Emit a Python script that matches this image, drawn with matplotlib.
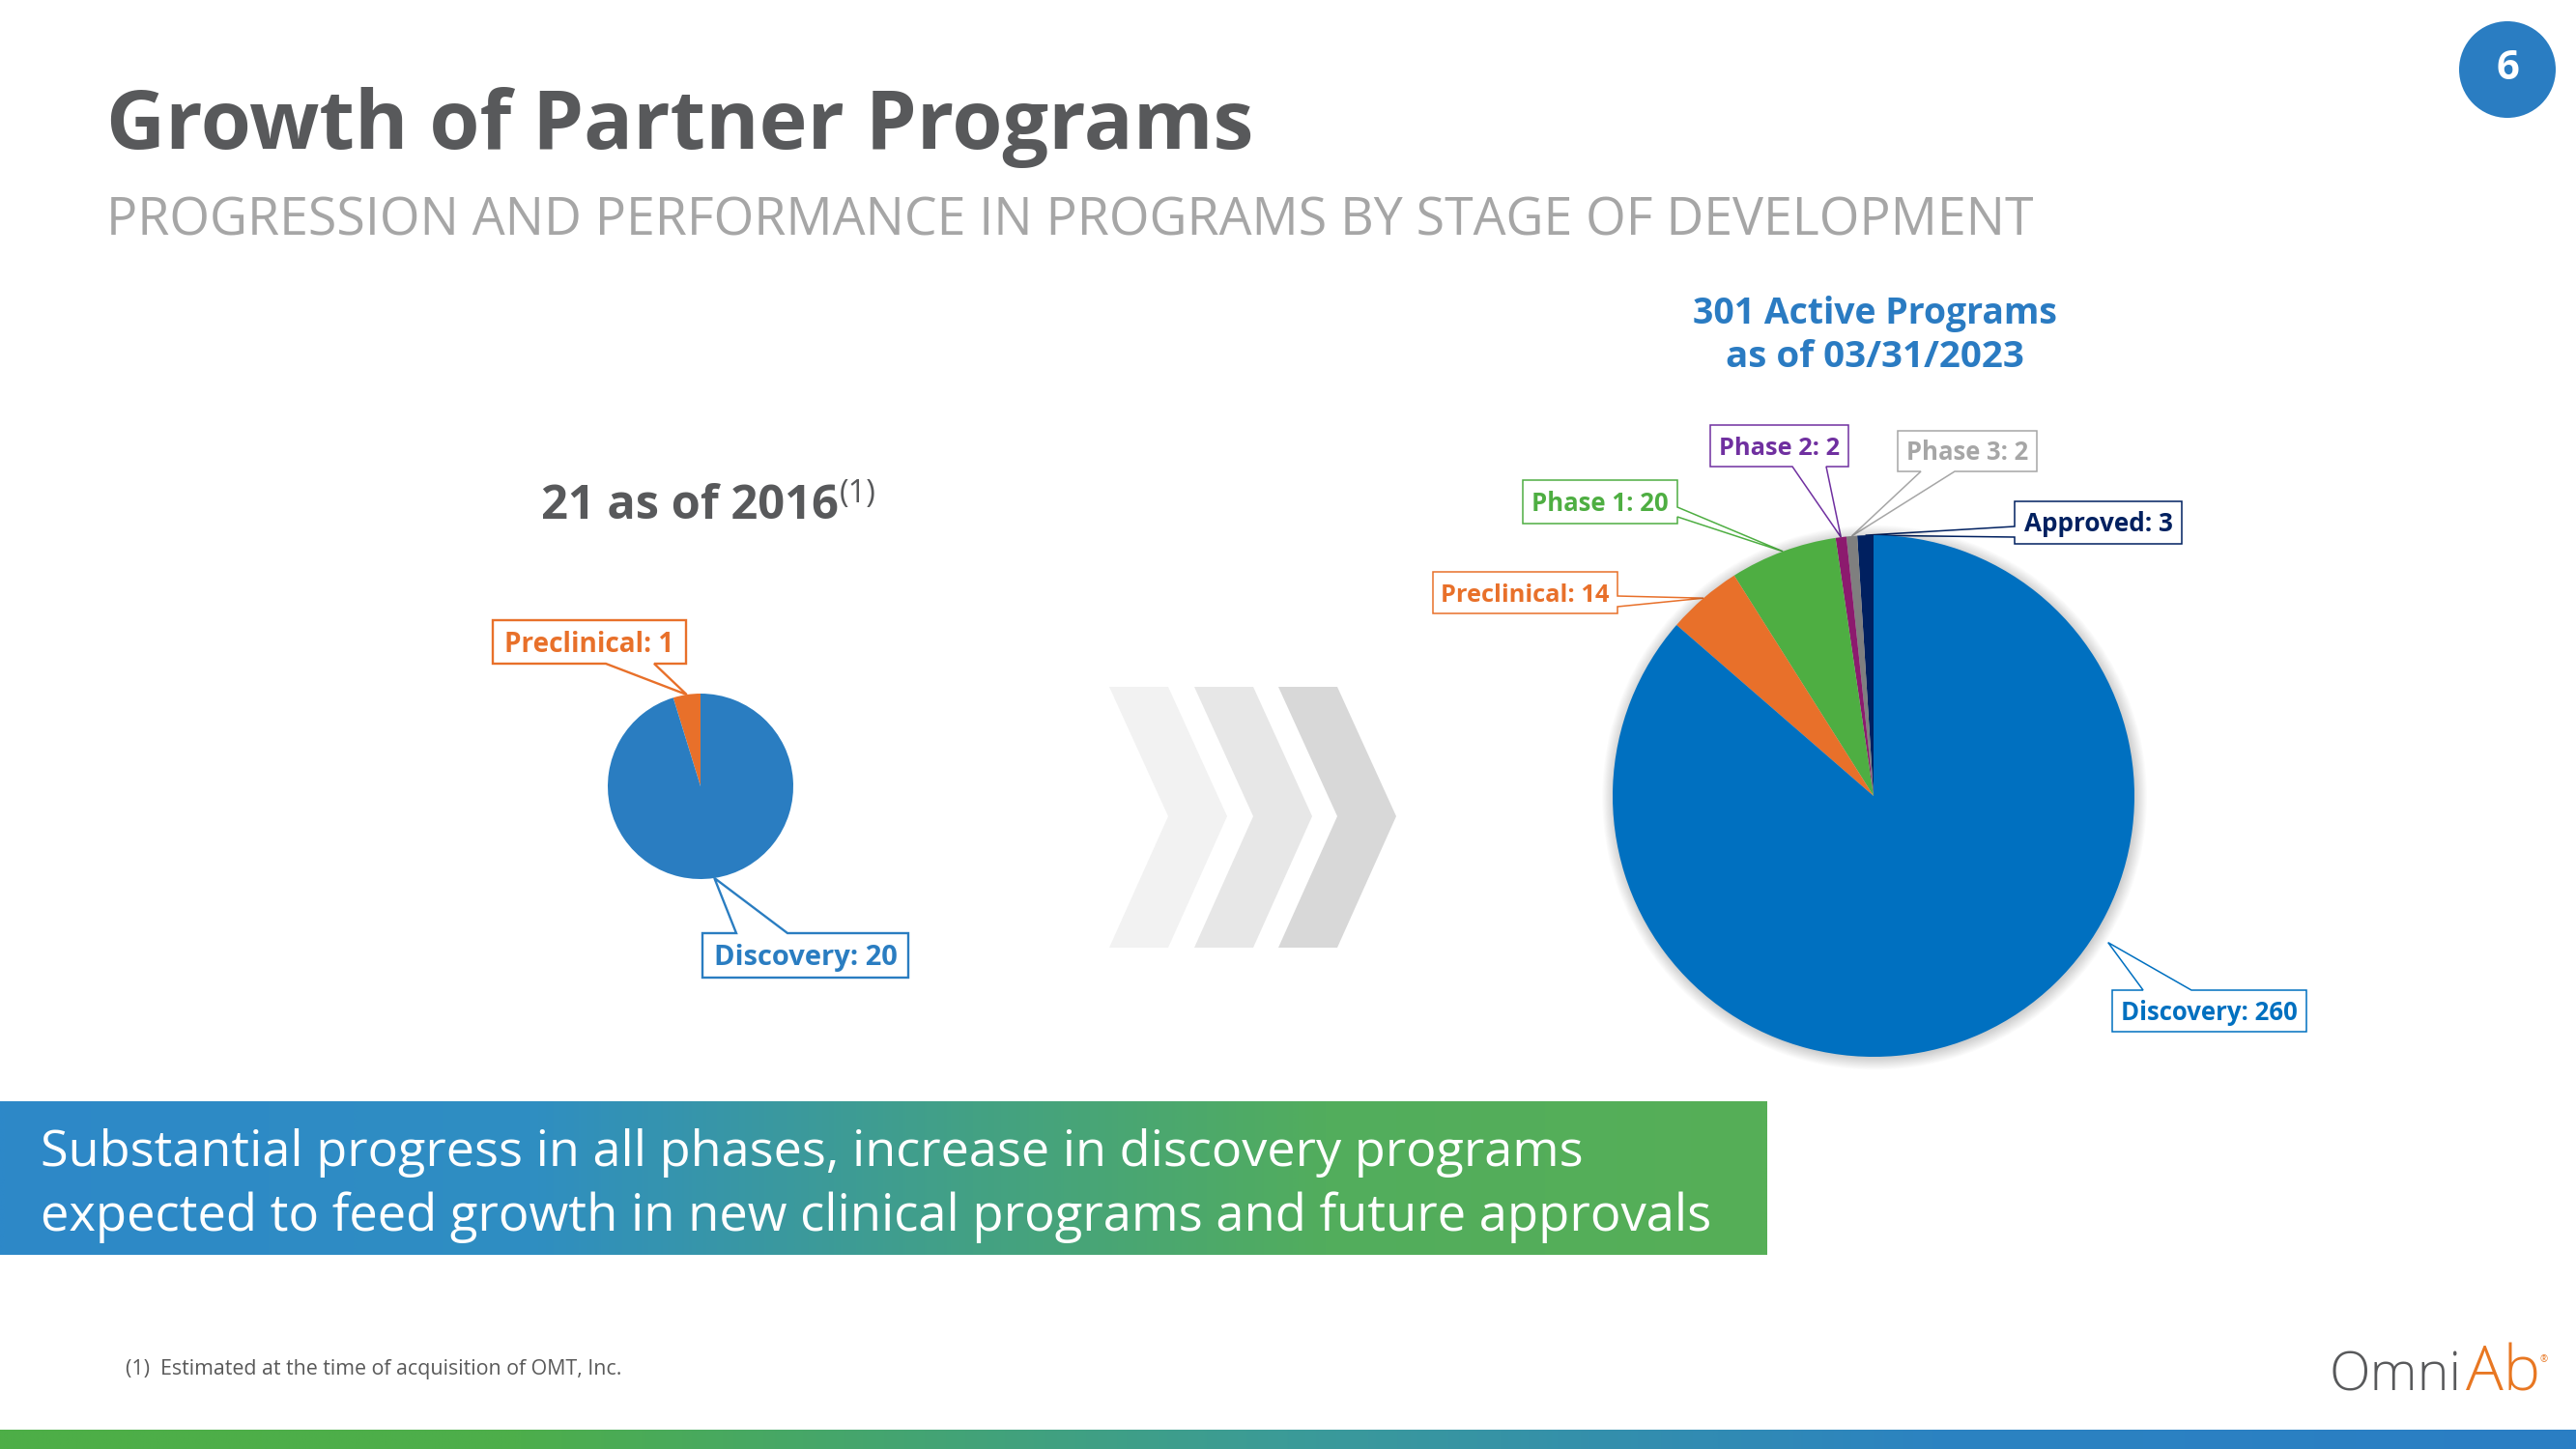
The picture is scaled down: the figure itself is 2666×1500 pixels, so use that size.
import matplotlib
matplotlib.use('Agg')
import numpy as np
import matplotlib.pyplot as plt
from matplotlib.patches import Polygon, Circle
from matplotlib.colors import LinearSegmentedColormap

plt.rcParams['font.family'] = ['Open Sans', 'DejaVu Sans']

# --- data -------------------------------------------------------------
old_labels = ['Preclinical', 'Discovery']
old_values = [1, 20]
old_colors = ['#E8702A', '#2A7DC1']

new_labels = ['Approved', 'Phase 3', 'Phase 2', 'Phase 1', 'Preclinical', 'Discovery']
new_values = [3, 2, 2, 20, 14, 260]
new_colors = ['#002060', '#7F7F7F', '#8C1A6E', '#4EAE42', '#E8702A', '#0070C0']
new_text_colors = ['#002060', '#A6A6A6', '#7030A0', '#4EAE42', '#E8702A', '#0070C0']

title = 'Growth of Partner Programs'
subtitle = 'PROGRESSION AND PERFORMANCE IN PROGRAMS BY STAGE OF DEVELOPMENT'
old_header = '21 as of 2016'
new_header = ['301 Active Programs', 'as of 03/31/2023']
banner = ['Substantial progress in all phases, increase in discovery programs',
          'expected to feed growth in new clinical programs and future approvals']
footnote = '(1)  Estimated at the time of acquisition of OMT, Inc.'

# --- canvas (pixel coordinates, y down) --------------------------------
W, H = 2666, 1500
fig = plt.figure(figsize=(W / 100, H / 100), dpi=100)
bg = fig.add_axes([0, 0, 1, 1])
bg.axis('off')
renderer = fig.canvas.get_renderer()
PX = 100 / 72.0


def fit_text(x, y, s, width, color, weight='normal', ha='left', **kw):
    t = bg.text(x, y, s, color=color, fontweight=weight, ha=ha, va='baseline',
                fontsize=20, **kw)
    bb = t.get_window_extent(renderer)
    t.set_fontsize(20 * width / bb.width)
    return t


def callout(box, apex, color, s, width, lw):
    x0, y0, x1, y1, side, b0, b1 = box
    if side == 'top':
        pts = [(x0, y0), (b0, y0), apex, (b1, y0), (x1, y0), (x1, y1), (x0, y1)]
    elif side == 'right':
        pts = [(x0, y0), (x1, y0), (x1, b0), apex, (x1, b1), (x1, y1), (x0, y1)]
    elif side == 'bottom':
        pts = [(x0, y0), (x1, y0), (x1, y1), (b1, y1), apex, (b0, y1), (x0, y1)]
    else:
        pts = [(x0, y0), (x1, y0), (x1, y1), (x0, y1), (x0, b1), apex, (x0, b0)]
    bg.add_patch(Polygon(pts, closed=True, facecolor='white', edgecolor=color,
                         lw=lw, zorder=5, joinstyle='miter'))
    t = fit_text((x0 + x1) / 2, 0, s, width, color, weight='bold', ha='center', zorder=6)
    cap = 0.714 * t.get_fontsize() * PX
    t.set_y((y0 + y1) / 2 + cap / 2)


def pie_axes(cx, cy, r, pad=1.1):
    ax = fig.add_axes([(cx - r * pad) / W, 1 - (cy + r * pad) / H,
                       2 * r * pad / W, 2 * r * pad / H])
    return ax


def apex_of(wedge, cx, cy, r, angle=None, k=1.0):
    th = np.deg2rad((wedge.theta1 + wedge.theta2) / 2 if angle is None else angle)
    return (cx + k * r * np.cos(th), cy - k * r * np.sin(th))


# --- gradients --------------------------------------------------------
band_cmap = LinearSegmentedColormap.from_list('band', [
    (0.0, '#2D88C8'), (0.3, '#2F8EC2'), (0.55, '#43A184'), (0.75, '#52AD5D'), (1.0, '#56AF57')])
bar_cmap = LinearSegmentedColormap.from_list('bar', [
    (0.0, '#4DAE47'), (0.2, '#4DAE4B'), (0.5, '#3B9B98'), (0.75, '#2C83C1'), (1.0, '#2A7EC4')])
grad = np.linspace(0, 1, 512)[None, :]
bg.imshow(band_cmap(grad), extent=(0, 1829, 1299, 1140), aspect='auto',
          interpolation='bilinear', zorder=1)
bg.imshow(bar_cmap(grad), extent=(0, W, H, 1480), aspect='auto',
          interpolation='bilinear', zorder=1)
bg.set_xlim(0, W)
bg.set_ylim(H, 0)

# --- chevrons ---------------------------------------------------------
chev_x = [1148, 1236, 1323]
chev_colors = ['#F2F2F2', '#E7E7E7', '#D8D8D8']
for x0, c in zip(chev_x, chev_colors):
    pts = [(x0, 711), (x0 + 61, 711), (x0 + 122, 845), (x0 + 61, 981), (x0, 981), (x0 + 61, 845)]
    bg.add_patch(Polygon(pts, closed=True, facecolor=c, edgecolor='none', zorder=2))

# --- texts ------------------------------------------------------------
fit_text(110, 154, title, 1186, '#58595B', weight='bold')
fit_text(110, 244, subtitle, 1995, '#A6A6A6')
fit_text(560, 537, old_header, 308, '#58595B', weight='bold')
fit_text(869, 520, '(1)', 38, '#58595B')
fit_text(1940, 335, new_header[0], 377, '#2A7BC2', weight='bold', ha='center')
fit_text(1940, 380, new_header[1], 309, '#2A7BC2', weight='bold', ha='center')
fit_text(42, 1207, banner[0], 1593, 'white', zorder=3)
fit_text(42, 1274, banner[1], 1728, 'white', zorder=3)
fit_text(130, 1423, footnote, 513, '#595959')

# page number
bg.add_patch(Circle((2595, 72), 50, facecolor='#2A7DC2', edgecolor='none', zorder=3))
bg.text(2595, 72, '6', color='white', fontweight='bold', fontsize=30,
        ha='center', va='center', zorder=4)

# logo
fit_text(2411, 1439, 'Omni', 137, '#58595B', weight='light')
fit_text(2552, 1439, 'Ab', 77, '#E87722', weight='light')
bg.text(2633, 1408, '®', color='#E87722', fontsize=7, ha='center', va='center')

# --- left pie ---------------------------------------------------------
lcx, lcy, lr = 725, 814, 96
axl = pie_axes(lcx, lcy, lr)
wl, _ = axl.pie(old_values, colors=old_colors, startangle=90, counterclock=True,
                radius=1, wedgeprops=dict(linewidth=0))
axl.set_xlim(-1.1, 1.1)
axl.set_ylim(-1.1, 1.1)
axl.axis('off')

old_boxes = {
    'Preclinical': ((510, 642, 710, 687, 'bottom', 627, 677), 176),
    'Discovery': ((727, 966, 940, 1012, 'top', 762, 815), 190),
}
for w, lab, val, col in zip(wl, old_labels, old_values, old_colors):
    box, tw = old_boxes[lab]
    callout(box, apex_of(w, lcx, lcy, lr), col, f'{lab}: {val}', tw, 1.7)

# --- right pie --------------------------------------------------------
rcx, rcy, rr = 1939, 824, 270
axr = pie_axes(rcx, rcy, rr)
for i in range(12):
    axr.add_patch(Circle((0.004, -0.006), 1.0 + 0.004 * i, facecolor='black',
                         edgecolor='none', alpha=0.016, zorder=0))
wr, _ = axr.pie(new_values, colors=new_colors, startangle=90, counterclock=True,
                radius=1, wedgeprops=dict(linewidth=0, zorder=2))
axr.set_xlim(-1.1, 1.1)
axr.set_ylim(-1.1, 1.1)
axr.axis('off')

new_boxes = {
    'Approved': ((2085, 519, 2258, 563, 'left', 545, 556), 154),
    'Phase 3': ((1964, 446, 2108, 488, 'bottom', 1988, 2023), 126),
    'Phase 2': ((1770, 440, 1913, 483, 'bottom', 1855, 1890), 125),
    'Phase 1': ((1576, 497, 1736, 542, 'right', 525, 535), 142),
    'Preclinical': ((1483, 592, 1674, 635, 'right', 617, 628), 174),
    'Discovery': ((2186, 1025, 2387, 1068, 'top', 2218, 2268), 183),
}
for w, lab, val, col in zip(wr, new_labels, new_values, new_text_colors):
    box, tw = new_boxes[lab]
    if lab == 'Discovery':
        apex = apex_of(w, rcx, rcy, rr, angle=328, k=1.06)
    else:
        apex = apex_of(w, rcx, rcy, rr)
    callout(box, apex, col, f'{lab}: {val}', tw, 1.1)

fig.savefig('out.png', dpi=100)
